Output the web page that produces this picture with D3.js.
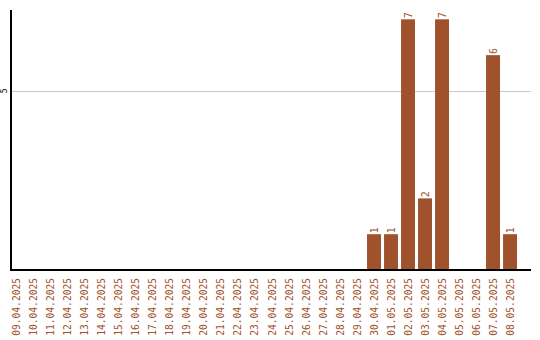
<!DOCTYPE html>
<html>
<head>
<meta charset="utf-8">
<script src="https://cdn.jsdelivr.net/npm/d3@7"></script>
<style>
  html, body { margin: 0; padding: 0; background: #fff; }
  svg { display: block; }
  .lbl { font-family: "DejaVu Sans Mono", monospace; fill: #a0522d; }
</style>
</head>
<body>
<svg id="chart" width="540" height="340"></svg>
<script>
const dates = [
  "09.04.2025", "10.04.2025", "11.04.2025", "12.04.2025", "13.04.2025",
  "14.04.2025", "15.04.2025", "16.04.2025", "17.04.2025", "18.04.2025",
  "19.04.2025", "20.04.2025", "21.04.2025", "22.04.2025", "23.04.2025",
  "24.04.2025", "25.04.2025", "26.04.2025", "27.04.2025", "28.04.2025",
  "29.04.2025", "30.04.2025", "01.05.2025", "02.05.2025", "03.05.2025",
  "04.05.2025", "05.05.2025", "06.05.2025", "07.05.2025", "08.05.2025"
];
const counts = [
  0, 0, 0, 0, 0, 0, 0, 0, 0, 0,
  0, 0, 0, 0, 0, 0, 0, 0, 0, 0,
  0, 1, 1, 7, 2, 7, 0, 0, 6, 1
];
const yTicks = [5];
const yMax = 7.26;

(function () {
  const color = "#a0522d";
  const svg = d3.select("#chart");
  const plotLeft = 11, plotRight = 531, plotTop = 10, base = 270;

  const x = d3.scaleBand()
    .domain(dates)
    .range([10, 517])
    .paddingInner(0.18)
    .paddingOuter(0)
    .align(0);

  const y = d3.scaleLinear().domain([0, yMax]).range([base, plotTop]);

  // gridlines
  svg.append("g")
    .selectAll("line")
    .data(yTicks)
    .join("line")
    .attr("x1", plotLeft)
    .attr("x2", plotRight)
    .attr("y1", (d) => Math.round(y(d)) + 0.5)
    .attr("y2", (d) => Math.round(y(d)) + 0.5)
    .attr("stroke", "#c8c8c8")
    .attr("stroke-width", 1);

  // y tick labels
  svg.append("g")
    .selectAll("text")
    .data(yTicks)
    .join("text")
    .attr("transform", (d) => "translate(6.5," + y(d) + ") rotate(-90)")
    .attr("text-anchor", "middle")
    .attr("font-family", "DejaVu Sans Mono, monospace")
    .attr("font-size", 8)
    .attr("fill", "#000")
    .text((d) => d);

  const data = dates.map((d, i) => ({ date: d, value: counts[i] }));
  const nonZero = data.filter((d) => d.value > 0);

  // bars
  svg.append("g")
    .selectAll("rect")
    .data(nonZero)
    .join("rect")
    .attr("x", (d) => x(d.date))
    .attr("y", (d) => y(d.value))
    .attr("width", x.bandwidth())
    .attr("height", (d) => base - y(d.value))
    .attr("fill", color);

  // value labels
  svg.append("g")
    .selectAll("text")
    .data(nonZero)
    .join("text")
    .attr("class", "lbl")
    .attr("font-size", 10)
    .attr("transform", (d) =>
      "translate(" + (x(d.date) + x.bandwidth() / 2 + 3.5) + "," + (y(d.value) - 1) + ") rotate(-90)")
    .attr("text-anchor", "start")
    .text((d) => d.value);

  // axis lines
  svg.append("line")
    .attr("x1", plotLeft).attr("x2", plotLeft)
    .attr("y1", plotTop).attr("y2", base)
    .attr("stroke", "#000").attr("stroke-width", 2);
  svg.append("line")
    .attr("x1", plotLeft - 1).attr("x2", plotRight)
    .attr("y1", base).attr("y2", base)
    .attr("stroke", "#000").attr("stroke-width", 2);

  // x labels
  svg.append("g")
    .selectAll("text")
    .data(dates)
    .join("text")
    .attr("class", "lbl")
    .attr("font-size", 9.6)
    .attr("transform", (d) =>
      "translate(" + (x(d) + x.bandwidth() / 2 + 3.5) + "," + (base + 8) + ") rotate(-90)")
    .attr("text-anchor", "end")
    .text((d) => d);
})();
</script>
</body>
</html>
